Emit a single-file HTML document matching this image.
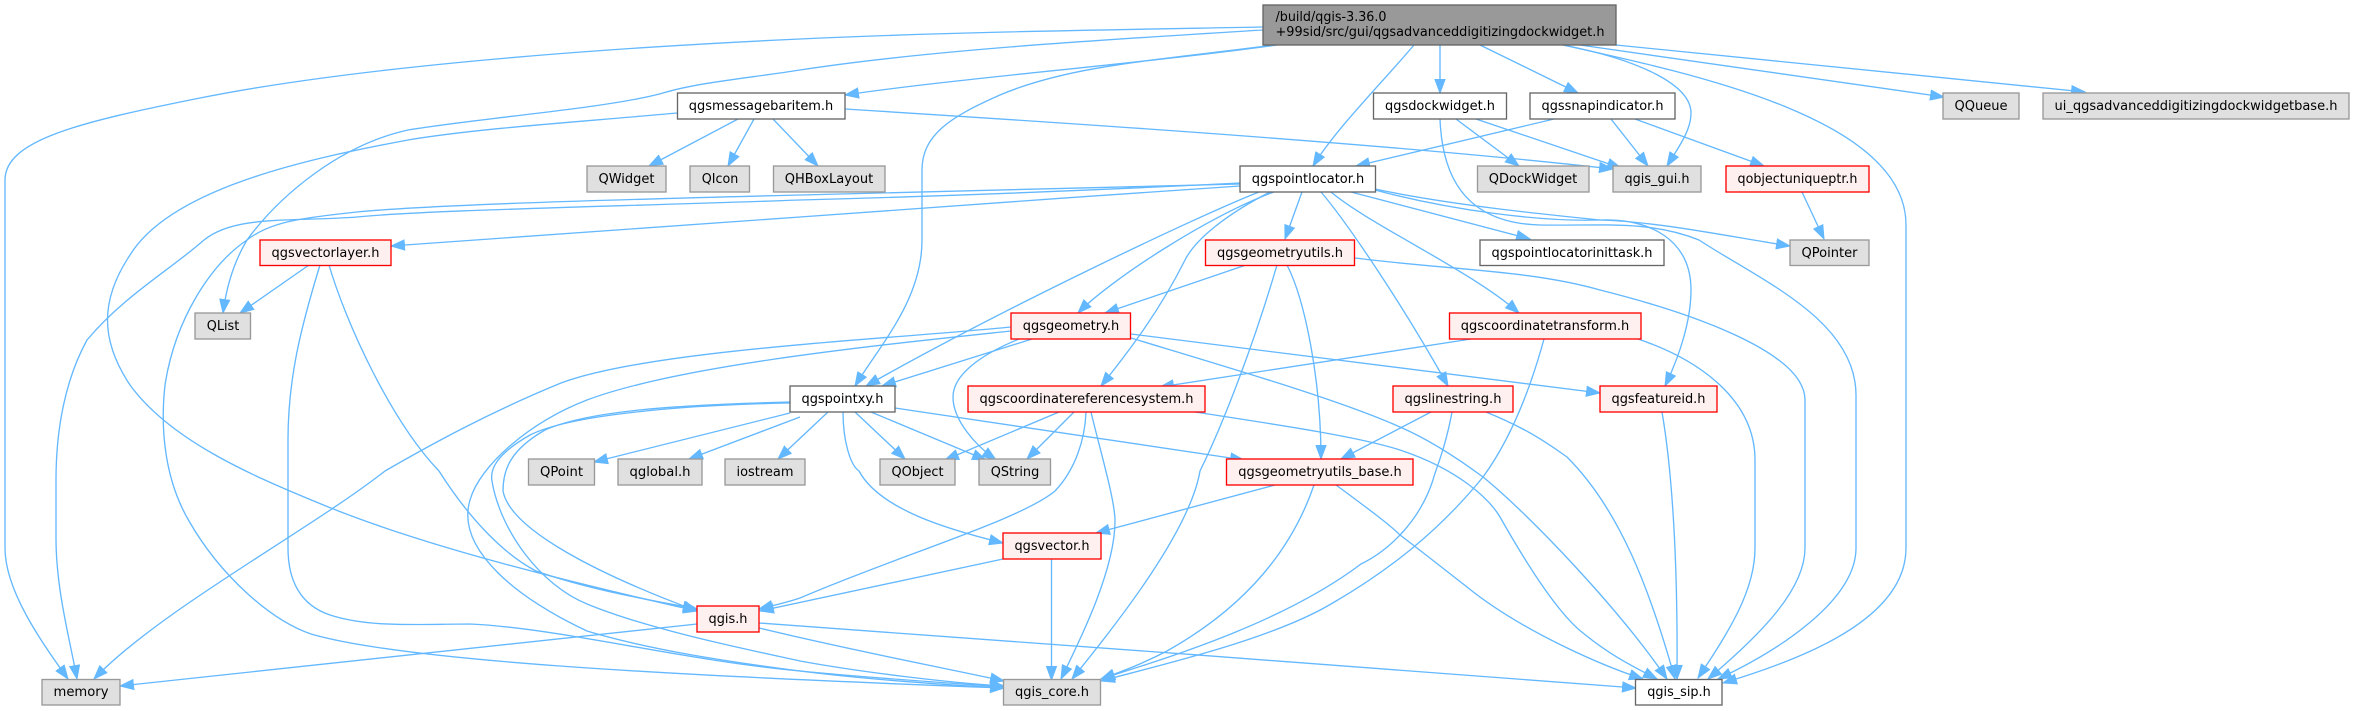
<!DOCTYPE html>
<html><head><meta charset="utf-8"><style>
html,body{margin:0;padding:0;background:#fff}
svg{display:block}
text{font-family:"DejaVu Sans",sans-serif;font-size:13.33px;fill:#000;text-anchor:middle}
.e path{fill:none;stroke:#63b8ff;stroke-width:1.33;marker-end:url(#a)}
.w{fill:#fff;stroke:#666;stroke-width:1.33}
.g{fill:#e0e0e0;stroke:#999;stroke-width:1.33}
.r{fill:#fff0f0;stroke:#f00;stroke-width:1.33}
</style></head><body>
<svg width="2354" height="711" viewBox="0 0 2354 711" xmlns="http://www.w3.org/2000/svg">
<defs><marker id="a" markerUnits="userSpaceOnUse" markerWidth="16" markerHeight="12" refX="14" refY="6" orient="auto"><path d="M0.5,1 L14,6 L0.5,11 Z" fill="#63b8ff" stroke="#63b8ff" stroke-width="1"/></marker></defs>
<g class="e">
<path d="M1263,27 C1100,30 950,32 800,39 C560,50 340,70 200,98 C80,122 5,140 5,180 L5,548 C5,590 40,640 68,679"/>
<path d="M1263,30 C1100,40 930,50 800,70 C750,78 700,82 663,93 C610,108 480,118 408,130 C340,145 280,195 247,240 C232,265 226,290 223,313"/>
<path d="M1277,45 C1130,65 960,78 845,95"/>
<path d="M1274,45 C1160,60 1070,65 1000,95 C950,117 922,135 922,170 L922,240 C922,300 880,345 855,386"/>
<path d="M1414,45 C1380,85 1335,130 1313,166"/>
<path d="M1440,45 L1440,93"/>
<path d="M1480,45 L1578,93"/>
<path d="M1563,45 C1640,60 1691,85 1691,113 C1691,130 1680,145 1667,166"/>
<path d="M1563,45 C1700,75 1906,120 1906,225 L1906,548 C1906,620 1800,660 1723,683"/>
<path d="M1580,45 L1944,97"/>
<path d="M1616,45 L2085,92"/>
<path d="M845,109 C1100,125 1400,145 1613,169"/>
<path d="M738,119 L649,166"/>
<path d="M754,119 L728,166"/>
<path d="M773,119 L818,166"/>
<path d="M677,113 C580,122 480,128 408,140 C300,160 170,190 130,255 C100,300 100,340 130,385 C170,440 250,475 321,504 C420,545 560,580 697,611"/>
<path d="M1456,119 L1519,166"/>
<path d="M1476,119 L1621,168"/>
<path d="M1440,119 C1442,170 1460,223 1540,225 C1600,226 1650,220 1699,240 C1760,280 1856,320 1856,395 L1856,548 C1856,600 1780,650 1718,679"/>
<path d="M1554,119 L1356,166"/>
<path d="M1611,119 L1648,166"/>
<path d="M1635,119 L1764,166"/>
<path d="M1802,192 L1824,239"/>
<path d="M1240,186 C1100,195 900,210 800,217 C650,228 500,238 391,246"/>
<path d="M1240,183 C1100,190 950,196 800,200 C600,207 430,210 357,217 C290,222 235,215 204,240 C170,270 125,295 87,340 C65,380 56,430 56,480 L56,538 C56,590 70,640 77,679"/>
<path d="M1240,184 C1100,188 950,192 800,195 C600,200 430,205 357,212 C300,218 270,222 247,240 C210,265 175,320 165,385 C160,430 165,480 189,521 C220,575 270,620 311,634 C400,660 650,675 1004,688"/>
<path d="M1274,192 C1210,215 1110,280 1078,313"/>
<path d="M1259,192 C1200,215 1000,310 866,386"/>
<path d="M1270,192 C1225,215 1195,240 1185,260 C1160,310 1130,350 1101,386"/>
<path d="M1302,192 L1285,239"/>
<path d="M1321,192 C1345,220 1400,300 1448,386"/>
<path d="M1331,192 C1370,225 1470,270 1519,313"/>
<path d="M1351,192 L1530,239"/>
<path d="M1375,189 C1450,205 1550,215 1600,220 C1660,222 1720,235 1790,246"/>
<path d="M1375,190 C1450,210 1540,222 1600,220 C1650,218 1691,240 1691,290 C1691,320 1680,355 1665,386"/>
<path d="M309,265 L240,313"/>
<path d="M320,265 C300,330 288,380 288,440 L288,548 C288,580 300,605 330,615 C370,628 420,624 470,624 C560,628 680,660 800,671 C870,678 950,683 1004,687"/>
<path d="M329,265 C345,320 390,420 439,471 C470,520 505,555 536,571 C590,590 650,600 697,609"/>
<path d="M1246,265 L1105,313"/>
<path d="M1277,265 C1255,340 1225,420 1200,471 C1190,530 1120,620 1072,679"/>
<path d="M1287,265 C1305,300 1321,380 1321,459"/>
<path d="M1355,258 C1450,270 1530,270 1600,290 C1680,310 1805,350 1805,400 L1805,548 C1805,590 1760,635 1708,679"/>
<path d="M1011,327 C880,340 650,350 561,383 C490,412 430,445 385,471 C310,530 160,610 94,679"/>
<path d="M1011,331 C880,345 680,365 587,400 C530,422 480,465 470,500 C455,550 520,600 587,631 C650,650 730,662 800,671 C870,680 950,685 1004,688"/>
<path d="M1032,339 L882,386"/>
<path d="M1019,339 C980,355 953,375 953,397 C953,420 975,445 996,460"/>
<path d="M1131,334 L1600,393"/>
<path d="M1131,338 C1230,368 1340,400 1400,427 C1430,440 1460,460 1483,477 C1530,515 1620,610 1667,679"/>
<path d="M1471,339 L1160,387"/>
<path d="M1544,339 C1530,390 1510,440 1483,477 C1440,530 1390,570 1331,604 C1270,640 1160,665 1101,681"/>
<path d="M1638,339 C1700,360 1755,400 1755,460 L1755,548 C1755,590 1730,630 1698,678"/>
<path d="M790,413 L594,462"/>
<path d="M800,417 L689,459"/>
<path d="M828,412 L778,459"/>
<path d="M855,412 L905,459"/>
<path d="M871,412 L986,460"/>
<path d="M895,408 L1244,460"/>
<path d="M843,412 C843,440 850,465 859,471 C880,510 950,530 1003,543"/>
<path d="M790,402 C680,405 590,410 545,430 C510,450 503,470 503,491 C510,530 600,575 697,611"/>
<path d="M790,403 C680,405 570,415 530,435 C495,455 490,470 492,481 C500,530 540,585 587,604 C650,630 750,650 800,661 C860,672 950,683 1004,686"/>
<path d="M1059,412 L945,460"/>
<path d="M1074,412 L1027,459"/>
<path d="M1086,412 C1085,440 1075,470 1055,491 C1020,520 900,555 800,598 C785,603 775,605 759,609"/>
<path d="M1091,412 C1100,450 1115,500 1115,521 C1115,570 1080,640 1061,679"/>
<path d="M1195,412 C1280,425 1360,437 1400,450 C1460,470 1490,500 1500,517 C1530,570 1560,615 1583,633 C1610,655 1630,665 1657,679"/>
<path d="M1431,412 L1341,459"/>
<path d="M1452,412 C1445,450 1435,471 1433,480 C1420,520 1390,550 1361,564 C1280,625 1160,660 1101,679"/>
<path d="M1486,412 C1530,430 1550,445 1567,457 C1620,510 1650,590 1675,679"/>
<path d="M1662,412 C1672,470 1678,560 1677,679"/>
<path d="M1275,485 L1096,533"/>
<path d="M1314,485 C1290,555 1240,610 1167,651 C1140,665 1120,672 1101,679"/>
<path d="M1336,485 C1370,510 1390,525 1400,535 C1420,550 1445,570 1467,587 C1520,630 1600,665 1643,679"/>
<path d="M1003,559 L760,611"/>
<path d="M1051.5,559 L1051.5,680"/>
<path d="M759,623 C1000,640 1400,670 1636,688"/>
<path d="M697,624 L120,686"/>
<path d="M759,628 C850,650 930,665 1004,681"/>
</g>
<rect class="g" style="fill:#999;stroke:#666" x="1263" y="5" width="353" height="40"/>
<text style="text-anchor:start" x="1275.5" y="21" textLength="111" lengthAdjust="spacingAndGlyphs">/build/qgis-3.36.0</text>
<text style="text-anchor:start" x="1275.5" y="36" textLength="329" lengthAdjust="spacingAndGlyphs">+99sid/src/gui/qgsadvanceddigitizingdockwidget.h</text>
<rect class="w" x="677.5" y="93" width="167.5" height="26"/><text x="761" y="110" textLength="144.5" lengthAdjust="spacingAndGlyphs">qgsmessagebaritem.h</text>
<rect class="w" x="1373.5" y="93" width="133" height="26"/><text x="1440" y="110" textLength="110" lengthAdjust="spacingAndGlyphs">qgsdockwidget.h</text>
<rect class="w" x="1530" y="93" width="145" height="26"/><text x="1602.5" y="110" textLength="122" lengthAdjust="spacingAndGlyphs">qgssnapindicator.h</text>
<rect class="g" x="1943" y="93" width="76" height="26"/><text x="1981" y="110" textLength="53" lengthAdjust="spacingAndGlyphs">QQueue</text>
<rect class="g" x="2043" y="93" width="306" height="26"/><text x="2196" y="110" textLength="283" lengthAdjust="spacingAndGlyphs">ui_qgsadvanceddigitizingdockwidgetbase.h</text>
<rect class="g" x="587" y="166" width="79" height="26"/><text x="626.5" y="183" textLength="56" lengthAdjust="spacingAndGlyphs">QWidget</text>
<rect class="g" x="690" y="166" width="59.5" height="26"/><text x="720" y="183" textLength="36.5" lengthAdjust="spacingAndGlyphs">QIcon</text>
<rect class="g" x="773.5" y="166" width="111.5" height="26"/><text x="829" y="183" textLength="88.5" lengthAdjust="spacingAndGlyphs">QHBoxLayout</text>
<rect class="w" x="1240" y="166" width="135.5" height="26"/><text x="1308" y="183" textLength="112.5" lengthAdjust="spacingAndGlyphs">qgspointlocator.h</text>
<rect class="g" x="1477.5" y="166" width="111.5" height="26"/><text x="1533" y="183" textLength="88.5" lengthAdjust="spacingAndGlyphs">QDockWidget</text>
<rect class="g" x="1613" y="166" width="88" height="26"/><text x="1657" y="183" textLength="65" lengthAdjust="spacingAndGlyphs">qgis_gui.h</text>
<rect class="r" x="1726" y="166" width="143" height="26"/><text x="1797.5" y="183" textLength="120" lengthAdjust="spacingAndGlyphs">qobjectuniqueptr.h</text>
<rect class="r" x="260" y="240" width="131" height="25.5"/><text x="325.5" y="257" textLength="108" lengthAdjust="spacingAndGlyphs">qgsvectorlayer.h</text>
<rect class="r" x="1205.5" y="240" width="149" height="25.5"/><text x="1280" y="257" textLength="126" lengthAdjust="spacingAndGlyphs">qgsgeometryutils.h</text>
<rect class="w" x="1480" y="240" width="184" height="25.5"/><text x="1572" y="257" textLength="161" lengthAdjust="spacingAndGlyphs">qgspointlocatorinittask.h</text>
<rect class="g" x="1790" y="240" width="79" height="25.5"/><text x="1829.5" y="257" textLength="56" lengthAdjust="spacingAndGlyphs">QPointer</text>
<rect class="g" x="195" y="313" width="55.5" height="26"/><text x="223" y="330" textLength="32.5" lengthAdjust="spacingAndGlyphs">QList</text>
<rect class="r" x="1011" y="313" width="119.5" height="26"/><text x="1071" y="330" textLength="96.5" lengthAdjust="spacingAndGlyphs">qgsgeometry.h</text>
<rect class="r" x="1449.5" y="313" width="191.5" height="26"/><text x="1545" y="330" textLength="168.5" lengthAdjust="spacingAndGlyphs">qgscoordinatetransform.h</text>
<rect class="w" x="790" y="386" width="105" height="26"/><text x="842.5" y="403" textLength="82" lengthAdjust="spacingAndGlyphs">qgspointxy.h</text>
<rect class="r" x="968" y="386" width="237" height="26"/><text x="1086.5" y="403" textLength="214" lengthAdjust="spacingAndGlyphs">qgscoordinatereferencesystem.h</text>
<rect class="r" x="1393" y="386" width="120" height="26"/><text x="1453" y="403" textLength="97" lengthAdjust="spacingAndGlyphs">qgslinestring.h</text>
<rect class="r" x="1600" y="386" width="117" height="26"/><text x="1658.5" y="403" textLength="94" lengthAdjust="spacingAndGlyphs">qgsfeatureid.h</text>
<rect class="g" x="528.5" y="459" width="66" height="26"/><text x="561.5" y="476" textLength="43" lengthAdjust="spacingAndGlyphs">QPoint</text>
<rect class="g" x="618" y="459" width="84" height="26"/><text x="660" y="476" textLength="61" lengthAdjust="spacingAndGlyphs">qglobal.h</text>
<rect class="g" x="725" y="459" width="80" height="26"/><text x="765" y="476" textLength="57" lengthAdjust="spacingAndGlyphs">iostream</text>
<rect class="g" x="880" y="459" width="75" height="26"/><text x="917.5" y="476" textLength="52" lengthAdjust="spacingAndGlyphs">QObject</text>
<rect class="g" x="979" y="459" width="71.5" height="26"/><text x="1015" y="476" textLength="48.5" lengthAdjust="spacingAndGlyphs">QString</text>
<rect class="r" x="1226.5" y="459" width="186.5" height="26"/><text x="1320" y="476" textLength="163.5" lengthAdjust="spacingAndGlyphs">qgsgeometryutils_base.h</text>
<rect class="r" x="1003" y="533" width="98" height="26"/><text x="1052" y="550" textLength="75" lengthAdjust="spacingAndGlyphs">qgsvector.h</text>
<rect class="r" x="697" y="606" width="62" height="26"/><text x="728" y="623" textLength="39" lengthAdjust="spacingAndGlyphs">qgis.h</text>
<rect class="g" x="42" y="679.5" width="78" height="25.5"/><text x="81" y="696" textLength="55" lengthAdjust="spacingAndGlyphs">memory</text>
<rect class="g" x="1003.5" y="679.5" width="97" height="25.5"/><text x="1052" y="696" textLength="74" lengthAdjust="spacingAndGlyphs">qgis_core.h</text>
<rect class="w" x="1635.5" y="679.5" width="86.5" height="25.5"/><text x="1679" y="696" textLength="63.5" lengthAdjust="spacingAndGlyphs">qgis_sip.h</text>
</svg>
</body></html>
